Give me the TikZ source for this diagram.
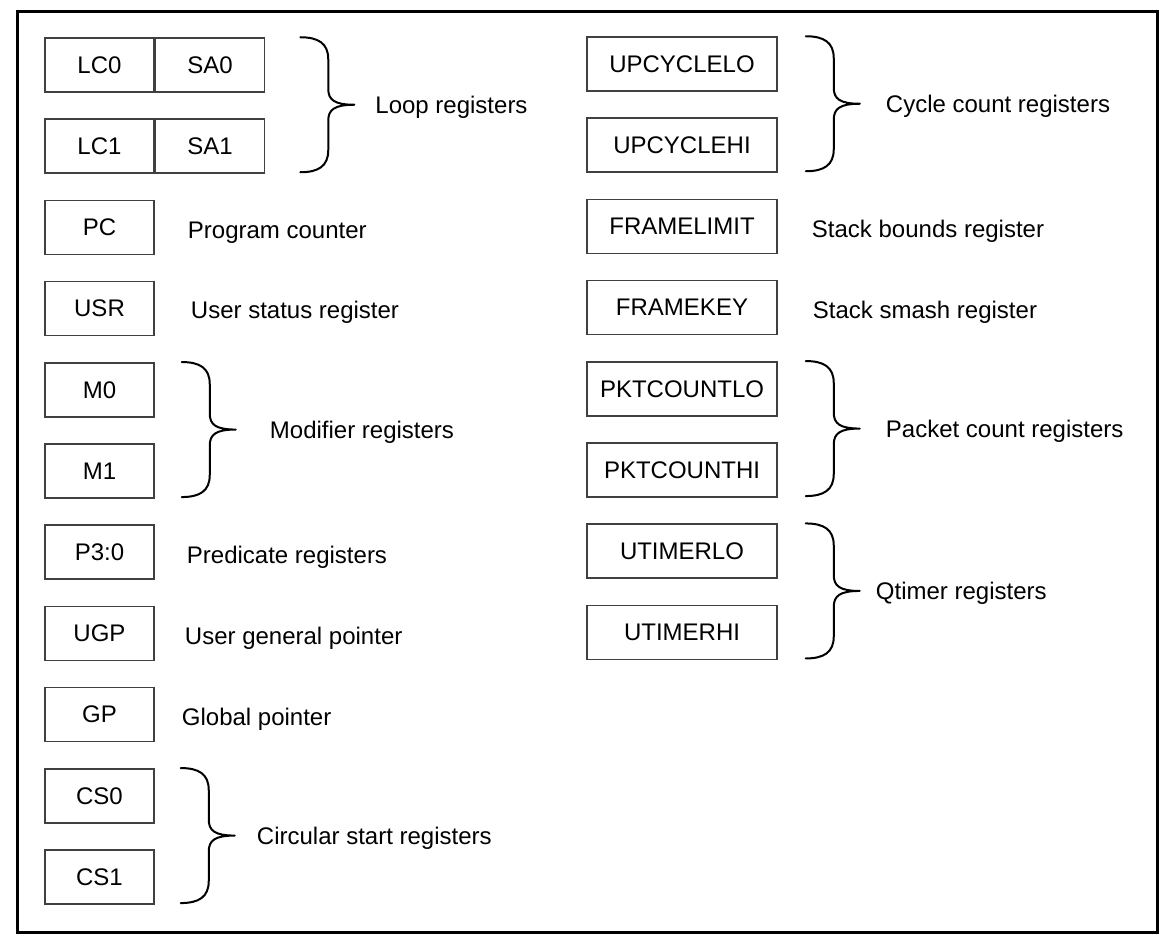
\documentclass[tikz,border=0pt]{standalone}
\usepackage{fontspec}
\setmainfont{Liberation Sans}
\usetikzlibrary{positioning,calc}
\tikzset{reg node/.style={draw=black!75,line width=1.5pt,minimum width=109pt,minimum height=54pt,inner sep=0pt,font=\fontsize{24}{29}\selectfont},
  wide node/.style={reg node,minimum width=190pt},
  label node/.style={anchor=base west,inner sep=0pt,font=\fontsize{24}{29}\selectfont},
  brace line/.style={line width=2pt,line cap=round,line join=round},
  pics/reg brace/.style={code={
    \draw[brace line] (0,0) .. controls (18,0) and (28,6) .. (28,22)
      -- (28,{#1/2-16}) .. controls (28,{#1/2-5}) and (34,{#1/2}) .. (54,{#1/2})
      .. controls (34,{#1/2}) and (28,{#1/2+5}) .. (28,{#1/2+16})
      -- (28,{#1-22}) .. controls (28,{#1-6}) and (18,#1) .. (0,#1);
    \coordinate (-tip) at (54,{#1/2});
  }},
  pics/reg brace/.default=135}

\begin{document}
\begin{tikzpicture}[x=1pt,y=-1pt]
  \useasboundingbox (0,0) rectangle (1166,944);
  \draw[line width=3pt] (17,12) rectangle (1157,932);
  % left column
  \node[reg node] (lc0) at (99.5,65) {LC0};
  \node[reg node] (sa0) [right=0pt of lc0] {SA0};
  \node[reg node] (lc1) [below=25.7pt of lc0] {LC1};
  \node[reg node] (sa1) [right=0pt of lc1] {SA1};
  \node[reg node] (pc) [below=25.7pt of lc1] {PC};
  \node[reg node] (usr) [below=25.7pt of pc] {USR};
  \node[reg node] (m0) [below=25.7pt of usr] {M0};
  \node[reg node] (m1) [below=25.7pt of m0] {M1};
  \node[reg node] (p30) [below=25.7pt of m1] {P3:0};
  \node[reg node] (ugp) [below=25.7pt of p30] {UGP};
  \node[reg node] (gp) [below=25.7pt of ugp] {GP};
  \node[reg node] (cs0) [below=25.7pt of gp] {CS0};
  \node[reg node] (cs1) [below=25.7pt of cs0] {CS1};
  % right column
  \node[wide node] (upcyclelo) at (682,64) {UPCYCLELO};
  \node[wide node] (upcyclehi) [below=25.7pt of upcyclelo] {UPCYCLEHI};
  \node[wide node] (framelimit) [below=25.7pt of upcyclehi] {FRAMELIMIT};
  \node[wide node] (framekey) [below=25.7pt of framelimit] {FRAMEKEY};
  \node[wide node] (pktcountlo) [below=25.7pt of framekey] {PKTCOUNTLO};
  \node[wide node] (pktcounthi) [below=25.7pt of pktcountlo] {PKTCOUNTHI};
  \node[wide node] (utimerlo) [below=25.7pt of pktcounthi] {UTIMERLO};
  \node[wide node] (utimerhi) [below=25.7pt of utimerlo] {UTIMERHI};
  % braces
  \pic (loop) at ([xshift=35pt]sa0.north east) {reg brace};
  \pic (modifier) at ([xshift=27pt]m0.north east) {reg brace};
  \pic (circular) at ([xshift=26pt]cs0.north east) {reg brace};
  \pic (cycle) at ([xshift=28pt]upcyclelo.north east) {reg brace};
  \pic (packet) at ([xshift=28pt]pktcountlo.north east) {reg brace};
  \pic (qtimer) at ([xshift=28pt]utimerlo.north east) {reg brace};
  % labels
  \node[label node] (looplab) at ([xshift=21pt,yshift=-8.5pt]loop-tip) {Loop registers};
  \node[label node] (modlab) at ([xshift=34pt,yshift=-8.5pt]modifier-tip) {Modifier registers};
  \node[label node] (circlab) at ([xshift=22pt,yshift=-8.5pt]circular-tip) {Circular start registers};
  \node[label node] (cyclelab) at ([xshift=26pt,yshift=-8.5pt]cycle-tip) {Cycle count registers};
  \node[label node] (pktlab) at ([xshift=26pt,yshift=-8.5pt]packet-tip) {Packet count registers};
  \node[label node] (qtimerlab) at ([xshift=16pt,yshift=-8.5pt]qtimer-tip) {Qtimer registers};
  \node[label node] (pclab) at ([xshift=33pt,yshift=-3pt]pc.base east) {Program counter};
  \node[label node] (usrlab) at ([xshift=36pt,yshift=-2pt]usr.base east) {User status register};
  \node[label node] (p30lab) at ([xshift=32pt,yshift=-3pt]p30.base east) {Predicate registers};
  \node[label node] (ugplab) at ([xshift=30pt,yshift=-3pt]ugp.base east) {User general pointer};
  \node[label node] (gplab) at ([xshift=27pt,yshift=-3pt]gp.base east) {Global pointer};
  \node[label node] (flimlab) at ([xshift=34pt,yshift=-3pt]framelimit.base east) {Stack bounds register};
  \node[label node] (fkeylab) at ([xshift=35pt,yshift=-3pt]framekey.base east) {Stack smash register};
\end{tikzpicture}
\end{document}
